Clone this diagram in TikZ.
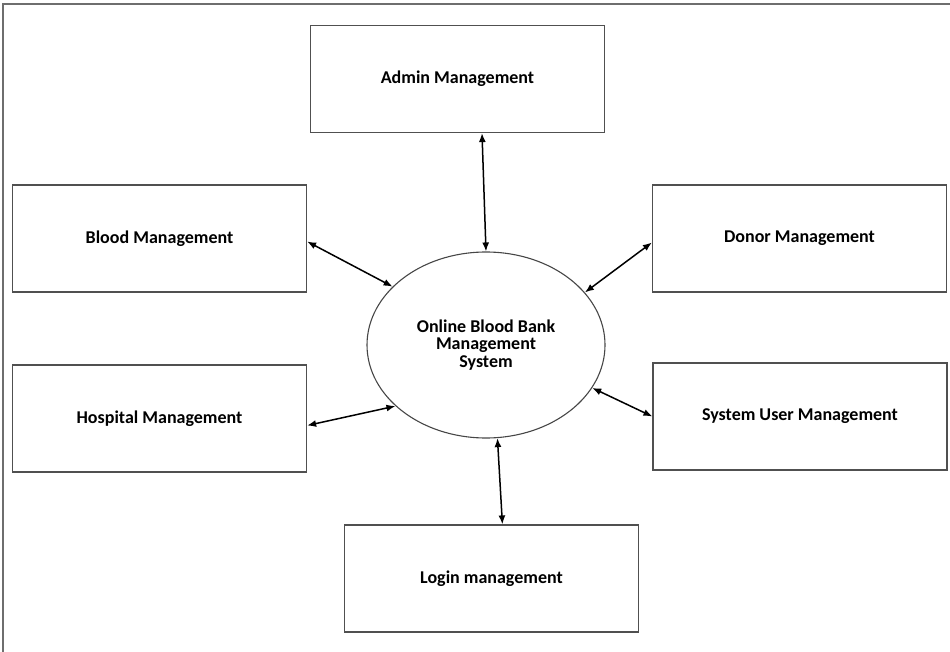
\documentclass[tikz,border=0pt]{standalone}
\usepackage{fontspec}
\setmainfont{Carlito}
\usetikzlibrary{arrows.meta,shapes.geometric}

\tikzset{
  module/.style={draw={rgb,255:red,80;green,80;blue,80}, line width=1.2, minimum width=294, minimum height=107, inner sep=0, font=\fontsize{18}{19}\selectfont\bfseries},
  link/.style={{Latex[length=9,width=7]}-{Latex[length=9,width=7]}, line width=1.5, black},
  frame/.style={draw={rgb,255:red,110;green,110;blue,110}, line width=1.5}
}

\begin{document}
\begin{tikzpicture}[x=1pt,y=1pt,yscale=-1,xscale=1]
\useasboundingbox (0,0) rectangle (950,652);

%Outer frame (top and left only)
\draw [frame] (3,652) -- (3,4) -- (950,4) ;

%Centre ellipse
\node (sys) [ellipse, draw={rgb,255:red,70;green,70;blue,70}, line width=1.1, minimum width=238, minimum height=186, inner sep=0, align=center, font=\fontsize{18}{17.5}\selectfont\bfseries] at (486,345) {Online Blood Bank\\Management\\System};

%Module boxes
\node (admin) [module] at (457.5,79) {Admin Management};
\node (blood) [module] at (159.5,238.5) {Blood Management};
\node (donor) [module] at (799.5,238.5) {Donor Management};
\node (hospital) [module] at (159.5,418.5) {Hospital Management};
\node (sysuser) [module] at (800,416.5) {System User Management};
\node (login) [module] at (491.5,578.5) {Login management};

%Connectors
\draw [link] ([xshift=-4]sys.north |- admin.south) -- (sys.north) ;
\draw [link] ([yshift=3]blood.east) -- (sys.148) ;
\draw [link] ([yshift=4]donor.west) -- (sys.28) ;
\draw [link] ([yshift=7]hospital.east) -- (sys.214) ;
\draw [link] (sys.338) -- (sysuser.west) ;
\draw [link] (sys.277) -- ([xshift=5]sys.277 |- login.north) ;

\end{tikzpicture}
\end{document}
